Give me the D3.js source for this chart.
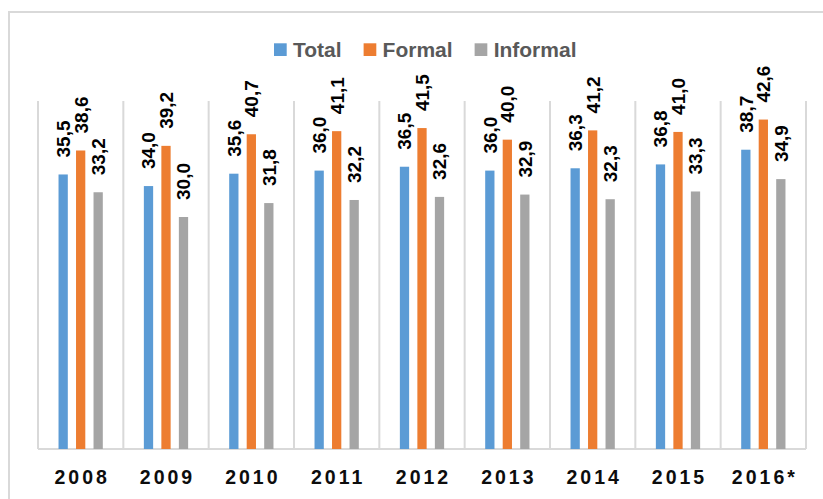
<!DOCTYPE html>
<html>
<head>
<meta charset="utf-8">
<script src="https://cdn.jsdelivr.net/npm/d3@7"></script>
<style>
  body { margin: 0; background: #fff; }
  svg { display: block; font-family: "Liberation Sans", Arial, sans-serif; }
</style>
</head>
<body>
<div id="chart"></div>
<script>
// chart data
const years = ['2008', '2009', '2010', '2011', '2012', '2013', '2014', '2015', '2016*'];
const seriesNames = ['Total', 'Formal', 'Informal'];
const totalValues = [35.5, 34.0, 35.6, 36.0, 36.5, 36.0, 36.3, 36.8, 38.7];
const formalValues = [38.6, 39.2, 40.7, 41.1, 41.5, 40.0, 41.2, 41.0, 42.6];
const informalValues = [33.2, 30.0, 31.8, 32.2, 32.6, 32.9, 32.3, 33.3, 34.9];
const seriesColors = ['#5b9bd5', '#ed7d31', '#a5a5a5'];

const width = 823, height = 499;
// plot area
const plot = {left: 38, right: 806, top: 101, bottom: 449};
const gridColor = '#d9d9d9';

let allSeries = [totalValues, formalValues, informalValues];

let svg = d3.select('#chart').append('svg')
    .attr('width', width)
    .attr('height', height);

// outer frame, runs off the right and bottom edges
svg.append('rect')
    .attr('x', 9).attr('y', 12)
    .attr('width', width + 20).attr('height', height + 20)
    .attr('fill', 'none')
    .attr('stroke', gridColor)
    .attr('stroke-width', 2);

// x scale for the year groups
let x = d3.scaleBand()
    .domain(years)
    .range([plot.left, plot.right]);
let cw = x.bandwidth();

// sub scale for the three bars inside each group
let xSub = d3.scaleBand()
    .domain(seriesNames)
    .range([cw / 2 - 26.25, cw / 2 + 26.25])
    .paddingInner(0.47)
    .paddingOuter(0.235);

let y = d3.scaleLinear()
    .domain([0, 45])
    .range([plot.bottom, plot.top]);

// vertical gridlines between the categories
let bounds = years.map(d => x(d)).concat([plot.right]);
svg.append('g').selectAll('line')
    .data(bounds)
    .enter().append('line')
    .attr('x1', d => d).attr('x2', d => d)
    .attr('y1', plot.top).attr('y2', plot.bottom)
    .attr('stroke', gridColor)
    .attr('stroke-width', 2);

// bottom axis line
svg.append('line')
    .attr('x1', plot.left).attr('x2', plot.right)
    .attr('y1', plot.bottom).attr('y2', plot.bottom)
    .attr('stroke', gridColor)
    .attr('stroke-width', 2);

// bars and labels
let groups = svg.selectAll('.year')
    .data(years)
    .enter().append('g')
    .attr('class', 'year')
    .attr('transform', d => `translate(${x(d)},0)`);

groups.each(function(year, i) {
    let g = d3.select(this);
    seriesNames.forEach((name, s) => {
        let v = allSeries[s][i];
        g.append('rect')
            .attr('x', xSub(name))
            .attr('y', y(v))
            .attr('width', xSub.bandwidth())
            .attr('height', y(0) - y(v))
            .attr('fill', seriesColors[s]);
        let cx = xSub(name) + xSub.bandwidth() / 2;
        let ty = y(v) - 17;
        g.append('text')
            .attr('transform', `translate(${cx},${ty}) rotate(-90)`)
            .attr('dy', '0.36em')
            .attr('text-anchor', 'start')
            .attr('font-size', '19px')
            .attr('font-weight', 'bold')
            .attr('fill', '#000')
            .text(v.toFixed(1).replace('.', ','));
    });
});

// year labels under the axis
svg.append('g').selectAll('text')
    .data(years)
    .enter().append('text')
    .attr('x', d => x(d) + cw / 2 + 1.5)
    .attr('y', 484)
    .attr('text-anchor', 'middle')
    .attr('font-size', '19.5px')
    .attr('font-weight', 'bold')
    .attr('letter-spacing', '3px')
    .attr('fill', '#0d0d0d')
    .text(d => d);

// legend
let legend = svg.append('g').attr('class', 'legend');
let lx = 274;
seriesNames.forEach((name, s) => {
    legend.append('rect')
        .attr('x', lx).attr('y', 43.3)
        .attr('width', 12.7).attr('height', 12.7)
        .attr('fill', seriesColors[s]);
    let t = legend.append('text')
        .attr('x', lx + 19)
        .attr('y', 57)
        .attr('font-size', '21px')
        .attr('font-weight', 'bold')
        .attr('fill', '#595959')
        .text(name);
    lx += 19 + t.node().getComputedTextLength() + 22;
});
</script>
</body>
</html>
